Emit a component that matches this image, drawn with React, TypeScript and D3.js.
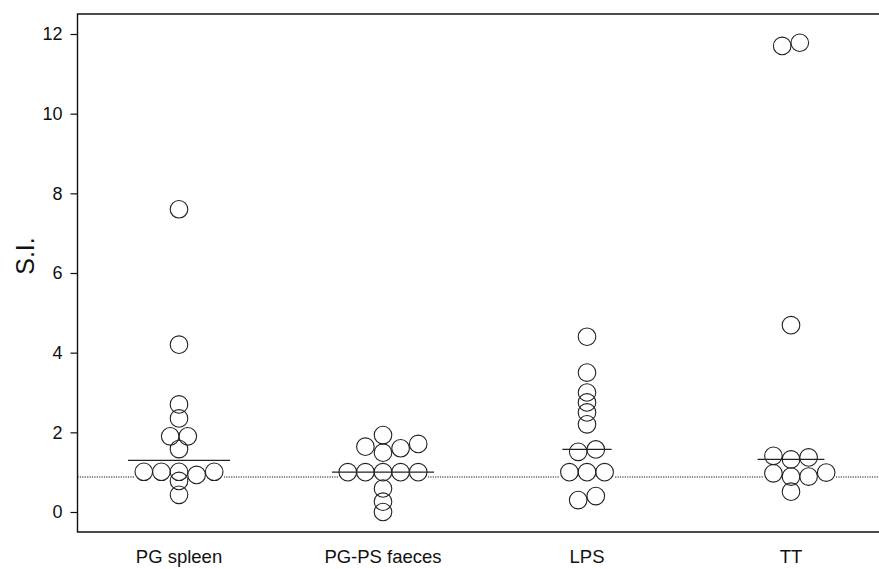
import React, { useRef, useEffect } from 'react'
import * as d3 from 'd3'

const WIDTH = 879
const HEIGHT = 569
const MARGIN = { top: 14, left: 77.5, bottom: 532, right: 893 }

const categories = ['PG spleen', 'PG-PS faeces', 'LPS', 'TT']
const pgSpleen = [7.6, 4.2, 2.7, 2.35, 1.9, 1.9, 1.58, 1.01, 1.01, 0.93, 1.01, 1.01, 0.78, 0.43]
const pgPsFaeces = [1.93, 1.64, 1.71, 1.6, 1.49, 1.0, 1.0, 1.0, 1.0, 1.0, 0.59, 0.26, 0.0]
const lps = [4.4, 3.5, 3.0, 2.75, 2.5, 2.2, 1.51, 1.57, 1.0, 1.0, 1.0, 0.3, 0.4]
const tt = [11.78, 11.7, 4.69, 1.32, 1.37, 1.41, 0.89, 0.97, 0.89, 0.99, 0.51]
const yTicks = [0, 2, 4, 6, 8, 10, 12]
const baselineSI = 0.88

const groups = [pgSpleen, pgPsFaeces, lps, tt]

const R = 8.8
const STEP = 17.6
const MIN_GAP = 9
const FONT = '"Liberation Sans", Arial, Helvetica, sans-serif'

// greedy column swarm: each dot takes the first free column (0, +1, -1, +2, ...)
const swarm = (values: number[], y: d3.ScaleLinear<number, number>) => {
  const sorted = values.map(v => ({ v })).sort((a, b) => a.v - b.v)
  const placed: { v: number; slot: number }[] = []
  sorted.forEach(p => {
    for (let k = 0; ; k++) {
      const slot = k === 0 ? 0 : k % 2 ? (k + 1) / 2 : -k / 2
      const hit = placed.some(q => q.slot === slot && Math.abs(y(q.v) - y(p.v)) < MIN_GAP)
      if (!hit) {
        placed.push({ v: p.v, slot })
        break
      }
    }
  })
  // clusters of two close values sit astride the centre
  let start = 0
  for (let i = 1; i <= placed.length; i++) {
    if (i === placed.length || Math.abs(y(placed[i].v) - y(placed[i - 1].v)) >= MIN_GAP) {
      if (i - start === 2) {
        const shift = (placed[start].slot + placed[start + 1].slot) / 2
        placed[start].slot -= shift
        placed[start + 1].slot -= shift
      }
      start = i
    }
  }
  return placed
}

const App = () => {
  const ref = useRef<SVGSVGElement>(null)

  useEffect(() => {
    const svg = d3.select(ref.current)
    svg.selectAll('*').remove()

    const x = d3.scaleBand().domain(categories).range([MARGIN.left - 0.5, MARGIN.right])
    const y = d3.scaleLinear().domain([0, 12]).range([512, 34])

    // frame
    svg
      .append('path')
      .attr('d', `M${MARGIN.right + 20},${MARGIN.top}H${MARGIN.left}V${MARGIN.bottom}H${MARGIN.right + 20}`)
      .attr('fill', 'none')
      .attr('stroke', '#111')
      .attr('stroke-width', 1.4)

    // y axis
    const yAxis = svg
      .append('g')
      .attr('transform', `translate(${MARGIN.left},0)`)
      .call(d3.axisLeft(y).tickValues(yTicks).tickSize(7).tickPadding(8))
    yAxis.select('.domain').remove()
    yAxis.selectAll('line').attr('stroke', '#111').attr('stroke-width', 1.2)
    yAxis
      .selectAll('text')
      .attr('font-family', FONT)
      .attr('font-size', 18)
      .attr('fill', '#111')

    svg
      .append('text')
      .attr('transform', `translate(34,256) rotate(-90)`)
      .attr('text-anchor', 'middle')
      .attr('font-family', FONT)
      .attr('font-size', 25)
      .attr('fill', '#111')
      .text('S.I.')

    // category labels
    svg
      .append('g')
      .selectAll('text')
      .data(categories)
      .join('text')
      .attr('x', d => x(d)! + x.bandwidth() / 2)
      .attr('y', 563)
      .attr('text-anchor', 'middle')
      .attr('font-family', FONT)
      .attr('font-size', 18.5)
      .attr('fill', '#111')
      .text(d => d)

    // dotted reference line
    svg
      .append('line')
      .attr('x1', MARGIN.left)
      .attr('x2', WIDTH)
      .attr('y1', y(baselineSI))
      .attr('y2', y(baselineSI))
      .attr('stroke', '#111')
      .attr('stroke-width', 1.1)
      .attr('stroke-dasharray', '1.2,1.2')

    groups.forEach((values, gi) => {
      const cx = x(categories[gi])! + x.bandwidth() / 2
      const dots = swarm(values, y)
      const slots = dots.map(d => d.slot)

      // dotted line stops at the swarm
      svg
        .append('rect')
        .attr('x', cx + d3.min(slots)! * STEP - R - 1)
        .attr('width', (d3.max(slots)! - d3.min(slots)!) * STEP + 2 * R + 2)
        .attr('y', y(baselineSI) - 1.5)
        .attr('height', 3)
        .attr('fill', '#fff')

      // median line
      const med = d3.median(values)!
      const near = dots.filter(d => Math.abs(y(d.v) - y(med)) <= 13).map(d => d.slot)
      const lo = near.length ? d3.min(near)! : 0
      const hi = near.length ? d3.max(near)! : 0
      svg
        .append('line')
        .attr('x1', cx + lo * STEP - R - 7)
        .attr('x2', cx + hi * STEP + R + 7)
        .attr('y1', y(med))
        .attr('y2', y(med))
        .attr('stroke', '#222')
        .attr('stroke-width', 1.2)

      svg
        .append('g')
        .selectAll('circle')
        .data(dots)
        .join('circle')
        .attr('cx', d => cx + d.slot * STEP)
        .attr('cy', d => y(d.v))
        .attr('r', R)
        .attr('fill', 'none')
        .attr('stroke', '#222')
        .attr('stroke-width', 1.1)
    })
  }, [])

  return (
    <svg
      ref={ref}
      width={WIDTH}
      height={HEIGHT}
      style={{ position: 'absolute', left: 0, top: 0, background: '#fff' }}
    />
  )
}

export default App
